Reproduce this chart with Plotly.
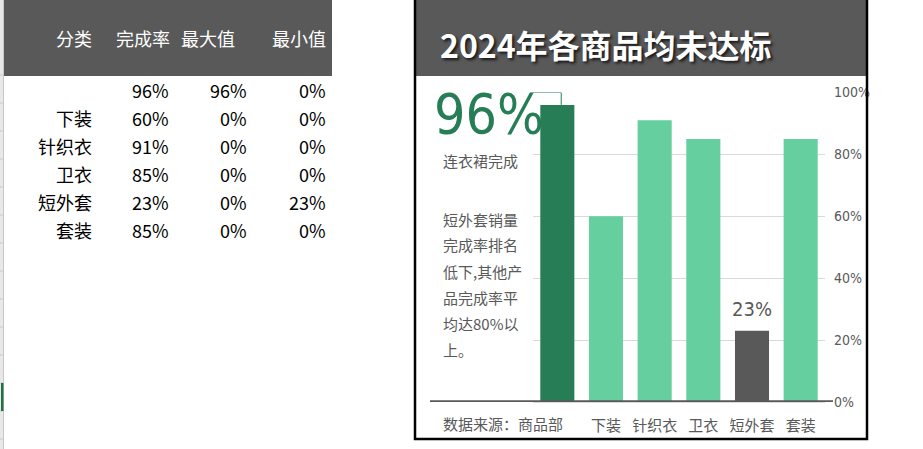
import plotly.graph_objects as go

# ---------------- data ----------------
table_header = ["分类", "完成率", "最大值", "最小值"]
categories = ["", "下装", "针织衣", "卫衣", "短外套", "套装"]
rate = [0.96, 0.60, 0.91, 0.85, 0.23, 0.85]
max_vals = [0.96, 0, 0, 0, 0, 0]
min_vals = [0, 0, 0, 0, 0.23, 0]
y_ticks = [0, 0.2, 0.4, 0.6, 0.8, 1.0]

title_text = "2024年各商品均未达标"
big_label = "连衣裙完成"
note_lines = ["短外套销量", "完成率排名", "低下,其他产", "品完成率平", "均达80%以", "上。"]
source_text = "数据来源：商品部"

# ---------------- styles ----------------
W, H = 923, 449
DARK = "#595959"
GREEN_D = "#267D56"
GREEN_L = "#66CF9F"
CJK = "Noto Sans CJK SC, Microsoft YaHei, sans-serif"
NARROW = "Liberation Sans Narrow, DejaVu Sans Condensed, Lato, sans-serif"


def px(x):
    return x / W


def py(y):
    return 1 - y / H


colors = []
for mx, mn in zip(max_vals, min_vals):
    if mx > 0:
        colors.append(GREEN_D)
    elif mn > 0:
        colors.append(DARK)
    else:
        colors.append(GREEN_L)

xs = list(range(len(categories)))

fig = go.Figure()
fig.add_trace(go.Bar(x=xs, y=rate, marker=dict(color=colors, line=dict(width=0)),
                     hoverinfo="skip", showlegend=False))

shapes = []
ann = []

# ---- spreadsheet side ----
shapes.append(dict(type="rect", xref="paper", yref="paper", x0=0, x1=px(3), y0=0, y1=1,
                   fillcolor="#e8e8e8", line=dict(width=0), layer="below"))
shapes.append(dict(type="line", xref="paper", yref="paper", x0=px(3.5), x1=px(3.5), y0=0, y1=1,
                   line=dict(color="#c8c8c8", width=1)))
for k in range(14):
    yy = 75 + 28 * k
    shapes.append(dict(type="line", xref="paper", yref="paper", x0=0, x1=px(3.5), y0=py(yy), y1=py(yy),
                       line=dict(color="#c8c8c8", width=1)))
shapes.append(dict(type="rect", xref="paper", yref="paper", x0=px(1), x1=px(3.5), y0=py(411), y1=py(383),
                   fillcolor="#217346", line=dict(width=0)))
shapes.append(dict(type="rect", xref="paper", yref="paper", x0=px(4), x1=px(332), y0=py(76), y1=1,
                   fillcolor=DARK, line=dict(width=0), layer="below"))

# header texts
hdr_pos = [(94, "right"), (172, "right"), (179, "left"), (328, "right")]
for txt, (xx, al) in zip(table_header, hdr_pos):
    ann.append(dict(text=txt, x=px(xx), y=py(38), xref="paper", yref="paper", xanchor=al,
                    yanchor="middle", showarrow=False, font=dict(family=CJK, size=18, color="white")))

col_right = [94, 171, 249, 328]
for i in range(len(categories)):
    yy = 90 + 28 * i
    row = [categories[i], f"{rate[i]:.0%}", f"{max_vals[i]:.0%}", f"{min_vals[i]:.0%}"]
    for txt, xx in zip(row, col_right):
        if txt:
            ann.append(dict(text=txt, x=px(xx), y=py(yy), xref="paper", yref="paper", xanchor="right",
                            yanchor="middle", showarrow=False, font=dict(family=CJK, size=18, color="black")))

# ---- chart panel ----
shapes.append(dict(type="rect", xref="paper", yref="paper", x0=px(415), x1=px(867), y0=py(76), y1=1,
                   fillcolor=DARK, line=dict(width=0), layer="below"))
shapes.append(dict(type="rect", xref="paper", yref="paper", x0=px(415), x1=px(867), y0=py(439), y1=py(-5),
                   fillcolor="rgba(0,0,0,0)", line=dict(color="black", width=2.5)))
# baseline
shapes.append(dict(type="line", xref="paper", yref="y", x0=px(430), x1=px(833), y0=0, y1=0,
                   line=dict(color=DARK, width=3.5)))
# leader line from big number to the max bar
imax = max_vals.index(max(max_vals))
shapes.append(dict(type="line", xref="x", yref="y", x0=imax - 0.5, x1=imax + 0.08, y0=1.0, y1=1.0,
                   line=dict(color=GREEN_D, width=1)))
shapes.append(dict(type="line", xref="x", yref="y", x0=imax + 0.08, x1=imax + 0.08, y0=1.0, y1=max_vals[imax],
                   line=dict(color=GREEN_D, width=1)))

# title
ann.append(dict(text=title_text, x=px(438), y=py(44), xref="paper", yref="paper", xanchor="left",
                yanchor="middle", showarrow=False,
                font=dict(family=CJK, size=32, color="white", weight="bold",
                          shadow="2px 2px 3px rgba(0,0,0,0.75)")))

# big number
ann.append(dict(text=f"{max(max_vals):.0%}", x=px(432), y=py(114), xref="paper", yref="paper",
                xanchor="left", yanchor="middle", showarrow=False,
                font=dict(family=NARROW, size=55, color=GREEN_D, weight=300)))
ann.append(dict(text=big_label, x=px(441), y=py(160), xref="paper", yref="paper", xanchor="left",
                yanchor="middle", showarrow=False, font=dict(family=CJK, size=15, color=DARK)))
for k, line in enumerate(note_lines):
    ann.append(dict(text=line, x=px(441), y=py(219 + 26 * k), xref="paper", yref="paper", xanchor="left",
                    yanchor="middle", showarrow=False, font=dict(family=CJK, size=15, color=DARK)))
ann.append(dict(text=source_text, x=px(441), y=py(423.5), xref="paper", yref="paper", xanchor="left",
                yanchor="middle", showarrow=False, font=dict(family=CJK, size=15, color=DARK)))

# min data label
imin = min_vals.index(max(min_vals))
ann.append(dict(text=f"{rate[imin]:.0%}", x=imin, y=rate[imin], xref="x", yref="y", xanchor="center",
                yanchor="bottom", yshift=8, showarrow=False,
                font=dict(family=NARROW, size=20, color=DARK, weight=300)))

fig.update_layout(
    width=W, height=H,
    margin=dict(l=0, r=0, t=0, b=0, pad=0, autoexpand=False),
    paper_bgcolor="white", plot_bgcolor="white",
    showlegend=False, bargap=0.3,
    shapes=shapes, annotations=ann,
    xaxis=dict(domain=[px(533), px(825)], range=[-0.5, len(categories) - 0.5],
               tickmode="array", tickvals=xs, ticktext=categories,
               tickfont=dict(family=CJK, size=15, color=DARK),
               showgrid=False, zeroline=False, showline=True, linecolor="#d9d9d9",
               ticks="", ticklabelstandoff=10, fixedrange=True, automargin=False),
    yaxis=dict(domain=[1 - 402 / H, 1 - 92.5 / H], range=[0, 1], side="right",
               tickmode="array", tickvals=y_ticks, tickformat=".0%",
               tickfont=dict(family=NARROW, size=14, color=DARK, weight=300),
               showgrid=True, gridcolor="#d9d9d9", gridwidth=1, zeroline=False,
               showline=False, ticks="", ticklabelstandoff=8, fixedrange=True, automargin=False),
)

fig.write_html("out.html", config={"displayModeBar": False})
